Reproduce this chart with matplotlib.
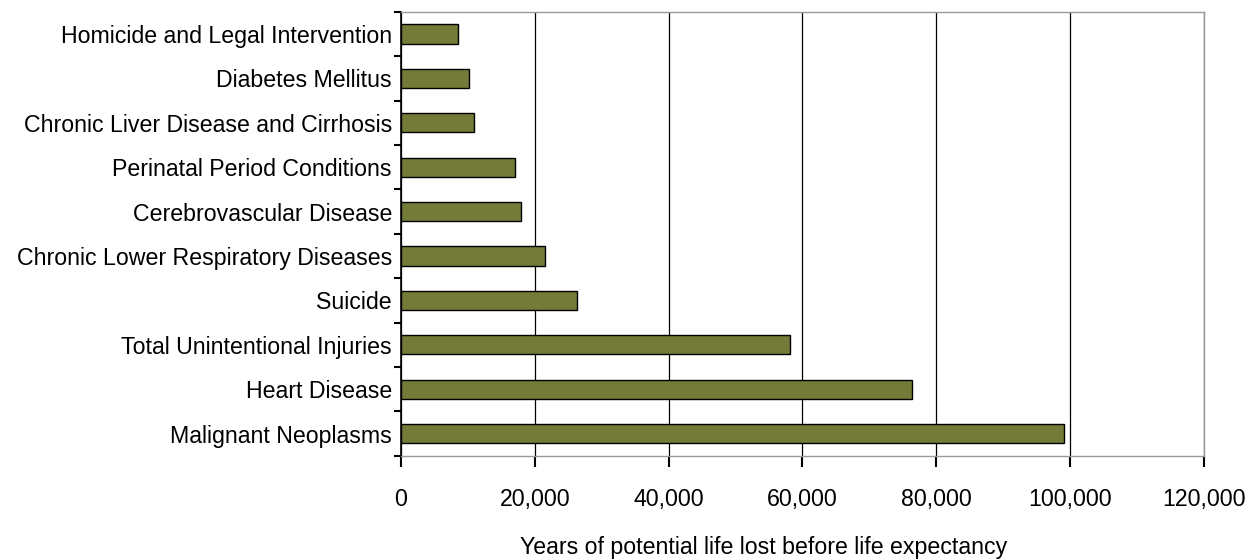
import numpy as np
import matplotlib.pyplot as plt
from matplotlib.ticker import FuncFormatter

plt.rcParams['font.family'] = ['Liberation Sans', 'DejaVu Sans']

# causes listed bottom to top
causes = ['Malignant Neoplasms', 'Heart Disease', 'Total Unintentional Injuries',
          'Suicide', 'Chronic Lower Respiratory Diseases', 'Cerebrovascular Disease',
          'Perinatal Period Conditions', 'Chronic Liver Disease and Cirrhosis',
          'Diabetes Mellitus', 'Homicide and Legal Intervention']
ypll = [99100, 76400, 58100, 26300, 21500, 18000, 17100, 10900, 10200, 8500]

fig = plt.figure(figsize=(12.49, 5.6), dpi=100)
ax = fig.add_axes([0.321, 0.186, 0.643, 0.793])

fs = 16.7
y = np.arange(len(causes))
ax.barh(y, ypll, height=0.43, color='#747a38', edgecolor='black', linewidth=1, zorder=3)

ax.set_xlim(0, 120000)
ax.set_ylim(-0.5, len(causes) - 0.5)
ax.set_xticks(np.arange(0, 120001, 20000))
ax.xaxis.set_major_formatter(FuncFormatter(lambda v, p: f'{int(v):,}'))
ax.grid(axis='x', color='black', linewidth=0.9, zorder=0)

ax.set_yticks(y)
ax.set_yticklabels(causes)
ax.set_yticks(np.arange(-0.5, len(causes)), minor=True)
ax.tick_params(axis='y', which='major', length=0, pad=6.5, labelsize=fs)
ax.tick_params(axis='y', which='minor', length=5, width=1.5, direction='out', color='black')
ax.tick_params(axis='x', length=8, width=1.5, direction='out', color='black', pad=15.5, labelsize=fs)

ax.set_xlabel('Years of potential life lost before life expectancy', fontsize=fs)
ax.xaxis.set_label_coords(0.452, -0.181)

ax.spines['left'].set_color('black')
ax.spines['left'].set_linewidth(1.2)
for s in ['top', 'right', 'bottom']:
    ax.spines[s].set_color('#999999')
    ax.spines[s].set_linewidth(1)

fig.savefig('out.png', dpi=100)
